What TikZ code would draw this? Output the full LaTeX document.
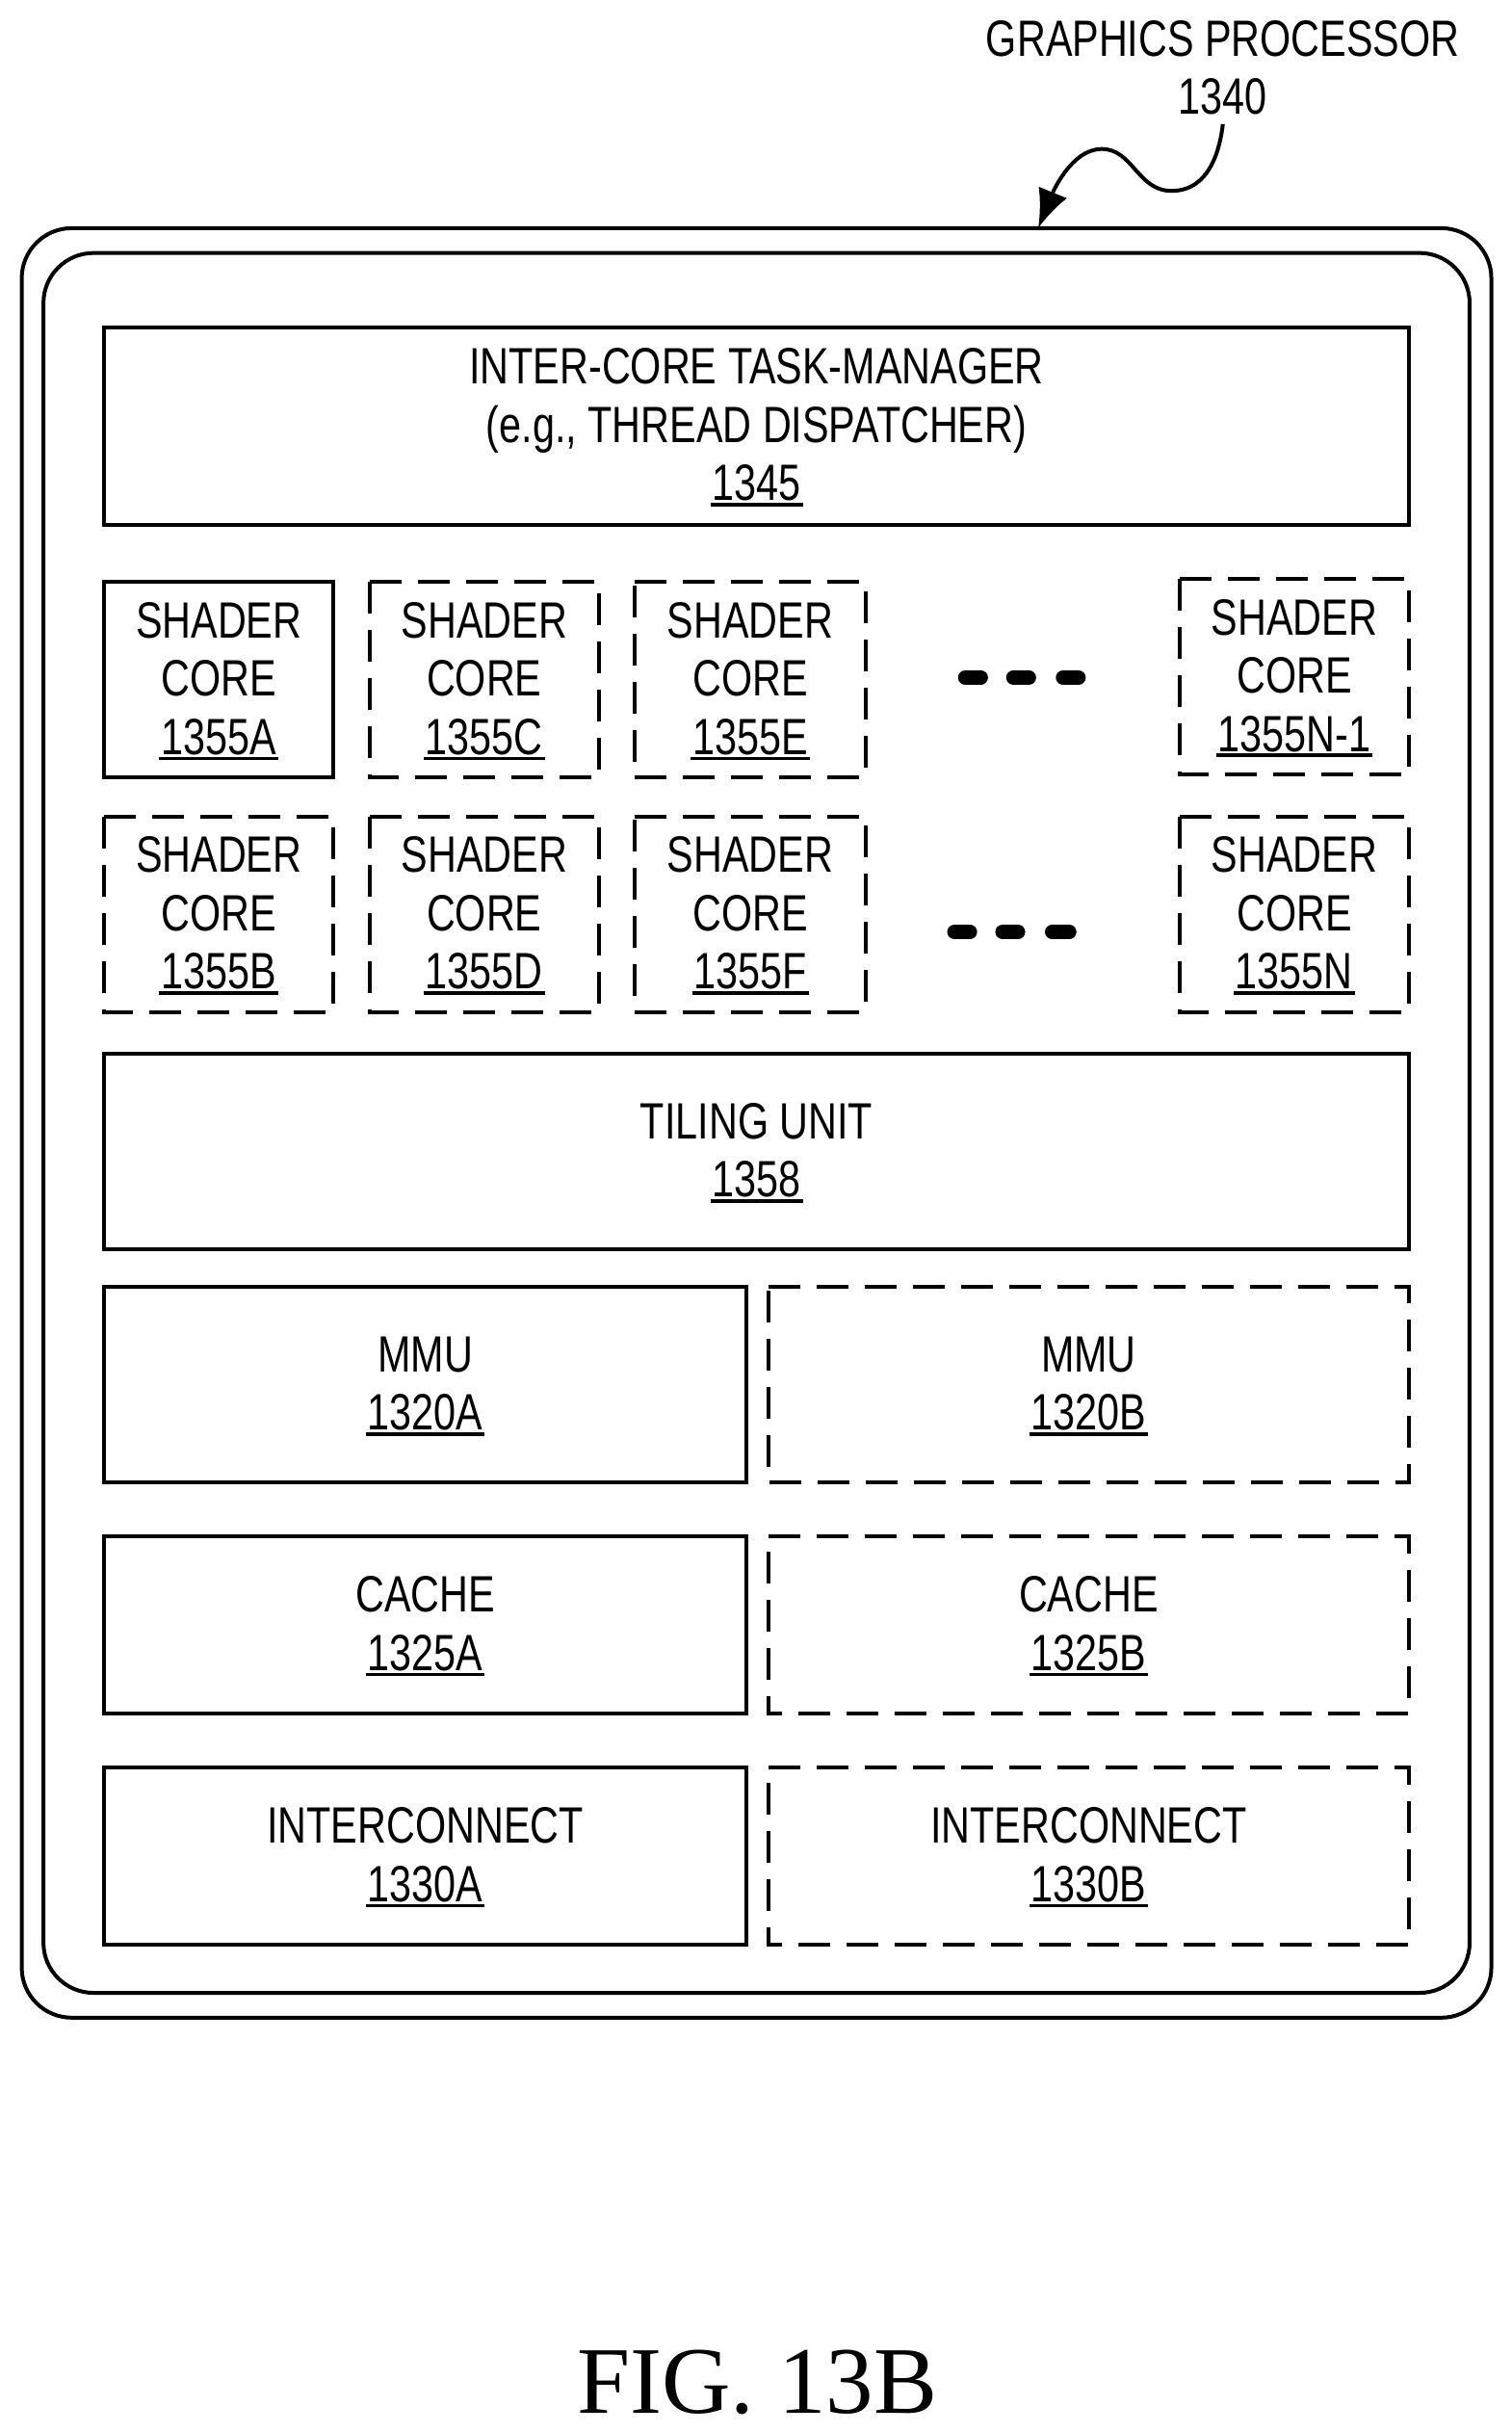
\documentclass[tikz,border=0pt]{standalone}
\usepackage{fontspec}
\setmainfont[FakeStretch=0.78]{Liberation Sans}
\newfontfamily\figfont{Liberation Serif}
\usetikzlibrary{arrows.meta}
\newcommand\un[1]{\setbox0\hbox{#1}\leavevmode\rlap{\kern-2pt\rule[-6pt]{\dimexpr\wd0+4pt\relax}{3.6pt}}\box0}
\tikzset{
  x=1.6114pt,y=-1.6114pt,
  lbl/.style={font=\fontsize{53}{60.5}\selectfont,align=center,inner sep=0pt,outer sep=0pt,text=black},
  blk/.style={lbl,rectangle,line width=4pt},
  solidblk/.style={blk,draw=black},
  dashblk/.style={blk,draw=none},
  dashline/.style={draw=black,line width=4pt,dash pattern=on 33pt off 17pt},
  shell/.style={rectangle,draw=black,line width=4pt,rounded corners=52pt,inner sep=0pt,outer sep=0pt},
  dotbar/.style={line width=15pt,line cap=round,black},
  leader/.style={draw=black,line width=4pt,-{Latex[length=40pt,width=32pt]}}
}
% name, x1, y1, x2, y2, text
\newcommand\sblk[6]{\node[solidblk,minimum width={(#4-#2)*1.6114pt},minimum height={(#5-#3)*1.6114pt}] (#1) at ({(#2+#4)/2},{(#3+#5)/2}) {\rule{0pt}{40pt}#6};}
\newcommand\dblk[6]{\node[dashblk,minimum width={(#4-#2)*1.6114pt},minimum height={(#5-#3)*1.6114pt}] (#1) at ({(#2+#4)/2},{(#3+#5)/2}) {\rule{0pt}{40pt}#6};
  \draw[dashline] (#1.north west) -- (#1.north east) -- (#1.south east) -- (#1.south west) -- cycle;}
\begin{document}
\begin{tikzpicture}
\useasboundingbox (0,0) rectangle (974.3,1567.6);
\node[shell,minimum width={947*1.6114pt},minimum height={1153*1.6114pt}] (outer) at (487.5,723.5) {};
\node[shell,minimum width={919*1.6114pt},minimum height={1121*1.6114pt}] (inner) at (487.5,723.5) {};
\node[lbl] (gp) at (788,43.5) {GRAPHICS PROCESSOR\\1340};
\coordinate (gpstart) at (788,80);
\coordinate (gptip) at (669,147);
\draw[leader] (gpstart) .. controls (785,105) and (775,123) .. (755,123) .. controls (733,123) and (730,96) .. (710,96) .. controls (690,96) and (678,125) .. (gptip);

\sblk{task}{67}{211}{908}{338}{INTER-CORE TASK-MANAGER\\(e.g., THREAD DISPATCHER)\\\un{1345}}
\sblk{sa}{67}{375}{215}{501}{SHADER\\CORE\\\un{1355A}}
\dblk{sc}{238}{375}{386}{501}{SHADER\\CORE\\\un{1355C}}
\dblk{se}{409}{375}{558}{501}{SHADER\\CORE\\\un{1355E}}
\dblk{sn1}{760}{373}{908}{499}{SHADER\\CORE\\\un{1355N-1}}
\dblk{sb}{67}{526}{215}{652}{SHADER\\CORE\\\un{1355B}}
\dblk{sd}{238}{526}{386}{652}{SHADER\\CORE\\\un{1355D}}
\dblk{sf}{409}{526}{558}{652}{SHADER\\CORE\\\un{1355F}}
\dblk{sn}{760}{526}{908}{652}{SHADER\\CORE\\\un{1355N}}
\draw[dotbar] (622,436.5) -- (632,436.5);
\draw[dotbar] (653,436.5) -- (663,436.5);
\draw[dotbar] (685,436.5) -- (695,436.5);
\draw[dotbar] (615,600.5) -- (625,600.5);
\draw[dotbar] (646,600.5) -- (656,600.5);
\draw[dotbar] (678,600.5) -- (689,600.5);
\sblk{tile}{67}{679}{908}{805}{TILING UNIT\\\un{1358}}
\sblk{mmua}{67}{829}{481}{955}{MMU\\\un{1320A}}
\dblk{mmub}{495}{829}{908}{955}{MMU\\\un{1320B}}
\sblk{cachea}{67}{990}{481}{1104}{CACHE\\\un{1325A}}
\dblk{cacheb}{495}{990}{908}{1104}{CACHE\\\un{1325B}}
\sblk{inta}{67}{1139}{481}{1253}{INTERCONNECT\\\un{1330A}}
\dblk{intb}{495}{1139}{908}{1253}{INTERCONNECT\\\un{1330B}}
\node[inner sep=0pt,font=\figfont\fontsize{99}{110}\selectfont] (fig) at (488,1535) {FIG. 13B};
\end{tikzpicture}
\end{document}
